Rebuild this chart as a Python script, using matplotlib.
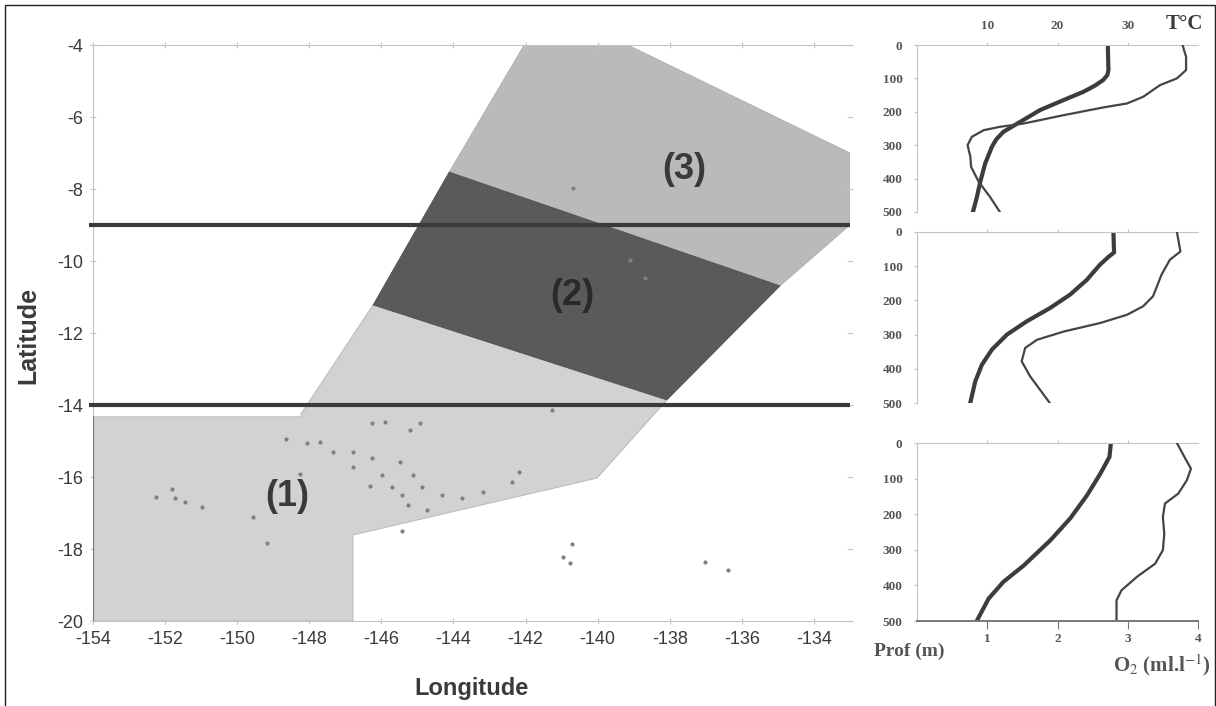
import matplotlib
matplotlib.use('Agg')
import matplotlib.pyplot as plt
from matplotlib.patches import Polygon, Rectangle

# Zones (lon, lat)
zone1 = [(-154, -14.33), (-148.23, -14.33), (-148.23, -14.25), (-146.23, -11.22), (-138.08, -13.86),
         (-140.02, -16.03), (-146.79, -17.61), (-146.79, -20), (-154, -20)]
zone2 = [(-144.12, -7.53), (-134.94, -10.69), (-138.08, -13.86), (-146.23, -11.22)]
zone3 = [(-142.04, -4), (-139.16, -4), (-133, -7), (-133, -9), (-134.94, -10.69), (-144.12, -7.53)]
limits_lat = [-9.0, -14.0]

# Iles
island_lon = [-152.25, -151.73, -151.45, -150.98, -151.81, -149.56, -149.17, -148.65, -148.26, -148.06,
              -147.70, -147.34, -146.79, -146.26, -145.9, -145.21, -144.93, -145.48, -146.26, -146.79,
              -146.32, -145.98, -145.71, -145.12, -144.87, -145.43, -145.26, -144.74, -144.32, -143.76,
              -145.43, -142.38, -142.18, -143.18, -140.71, -140.96, -140.77, -137.02, -136.39, -140.69,
              -139.1, -138.69, -141.27]
island_lat = [-16.56, -16.58, -16.69, -16.83, -16.33, -17.11, -17.83, -14.94, -15.92, -15.06,
              -15.03, -15.31, -15.31, -14.5, -14.47, -14.69, -14.5, -15.58, -15.47, -15.72,
              -16.25, -15.94, -16.28, -15.94, -16.28, -16.5, -16.78, -16.92, -16.5, -16.58,
              -17.5, -16.14, -15.86, -16.42, -17.86, -18.22, -18.39, -18.36, -18.58, -7.97,
              -9.97, -10.47, -14.14]

lon_ticks = [-154, -152, -150, -148, -146, -144, -142, -140, -138, -136, -134]
lat_ticks = [-4, -6, -8, -10, -12, -14, -16, -18, -20]
depth_ticks = [0, 100, 200, 300, 400, 500]
temp_ticks = [10, 20, 30]
o2_ticks = [1, 2, 3, 4]

# Profils
t1_temp = [27.16, 27.25, 27.1, 26.5, 25.3, 23.7, 20.85, 17.5, 14.7, 12.3, 11.3, 10.66, 9.7, 9.0, 8.53, 7.96]
t1_depth = [0, 75, 90, 105, 122, 140, 165, 195, 230, 260, 282, 305, 355, 410, 455, 500]
o1_val = [3.78, 3.83, 3.83, 3.70, 3.46, 3.22, 2.99, 2.65, 2.09, 1.52, 1.18, 0.95, 0.78, 0.72, 0.76, 0.77, 0.88, 1.04, 1.18]
o1_depth = [0, 35, 75, 100, 120, 155, 175, 187, 210, 235, 245, 255, 275, 300, 335, 365, 410, 455, 500]

t2_temp = [27.96, 28.05, 27.3, 26.07, 24.17, 21.8, 18.96, 15.64, 12.8, 10.66, 9.24, 8.29, 7.58]
t2_depth = [0, 60, 72, 95, 140, 183, 222, 261, 300, 344, 388, 437, 500]
o2_val = [3.70, 3.75, 3.6, 3.48, 3.36, 3.22, 2.99, 2.61, 2.09, 1.71, 1.54, 1.49, 1.61, 1.89]
o2_depth = [0, 57, 81, 125, 188, 217, 242, 266, 291, 315, 339, 378, 422, 500]

t3_temp = [27.6, 27.4, 26.1, 24.2, 21.8, 19.0, 15.2, 12.3, 10.2, 8.5]
t3_depth = [0, 39, 86, 147, 212, 273, 344, 390, 437, 500]
o3_val = [3.7, 3.82, 3.9, 3.84, 3.72, 3.53, 3.5, 3.52, 3.5, 3.39, 3.13, 2.91, 2.84, 2.84]
o3_depth = [0, 44, 72, 105, 142, 170, 208, 255, 301, 339, 376, 414, 442, 500]

W, H = 1216, 706
TXT = '#3a3a3a'
GRID = '#c4c4c4'
serif = ['Liberation Serif', 'DejaVu Serif']


def box(x0, y0, x1, y1):
    return [x0 / W, 1 - y1 / H, (x1 - x0) / W, (y1 - y0) / H]


plt.rcParams['font.family'] = ['Liberation Sans', 'DejaVu Sans']
plt.rcParams['axes.unicode_minus'] = False
fig = plt.figure(figsize=(W / 100, H / 100), dpi=100)

# cadre
fig.add_artist(Rectangle((5 / W, -0.01), (1215 - 5) / W, 1 - 5 / H + 0.01, transform=fig.transFigure,
                         fill=False, ec='#222222', lw=1))

# carte
ax = fig.add_axes(box(93, 45, 850, 621))
ax.set_xlim(-154, -133)
ax.set_ylim(-20, -4)
ax.add_patch(Polygon(zone1, fc='#d2d2d2', ec='#bdbdbd', lw=0.8))
ax.add_patch(Polygon(zone3, fc='#bababa', ec='#a8a8a8', lw=0.5))
ax.add_patch(Polygon(zone2, fc='#5a5a5a', ec='#4c4c4c', lw=0.5))
ax.scatter(island_lon, island_lat, s=9, c='#808080', marker='o', linewidths=0, zorder=3)
for lat in limits_lat:
    ax.plot([-154.1, -133], [lat, lat], color='#3a3a3a', lw=3, clip_on=False, zorder=4, solid_capstyle='butt')
ax.plot([-154, -154], [-20, -14.33], color='#777777', lw=1.5, zorder=4)

ax.set_xticks(lon_ticks)
ax.set_yticks(lat_ticks)
ax.tick_params(axis='both', colors=GRID, labelcolor=TXT, labelsize=13, length=4, pad=5)
ax.tick_params(axis='x', top=True, direction='inout')
ax.tick_params(axis='y', right=True, direction='inout')
for s in ax.spines.values():
    s.set_color(GRID)
    s.set_linewidth(0.8)
ax.spines['right'].set_visible(False)
ax.set_xlabel('Longitude', fontsize=17, fontweight='bold', color=TXT, labelpad=21)
ax.set_ylabel('Latitude', fontsize=18, fontweight='bold', color=TXT)
ax.yaxis.set_label_coords(-0.07, 0.495)

ax.text(-148.6, -16.55, '(1)', fontsize=26, fontweight='bold', color=TXT, ha='center', va='center', zorder=5)
ax.text(-140.71, -10.95, '(2)', fontsize=26, fontweight='bold', color='#2a2a2a', ha='center', va='center', zorder=5)
ax.text(-137.6, -7.45, '(3)', fontsize=26, fontweight='bold', color=TXT, ha='center', va='center', zorder=5)

# profils
panels = [
    (45, 212, t1_temp, t1_depth, o1_val, o1_depth),
    (232, 403, t2_temp, t2_depth, o2_val, o2_depth),
    (443, 621, t3_temp, t3_depth, o3_val, o3_depth),
]
for i, (y0, y1, temp, tdepth, oxy, odepth) in enumerate(panels):
    a = fig.add_axes(box(917, y0, 1198, y1))
    b = a.twiny()
    a.set_xlim(0, 40)
    a.set_ylim(500, 0)
    a.plot(temp, tdepth, color='#3c3c3c', lw=3, solid_capstyle='round', solid_joinstyle='round')
    a.set_xticks(temp_ticks)
    a.set_yticks(depth_ticks)
    a.xaxis.tick_top()
    a.tick_params(axis='both', colors=GRID, labelcolor='#555555', length=2.5, labelsize=9.5, pad=8)
    a.tick_params(axis='x', pad=7)
    for lab in a.get_yticklabels() + a.get_xticklabels():
        lab.set_family(serif)
        lab.set_fontweight('bold')
    if i > 0:
        a.tick_params(axis='x', labeltop=False)
    for name, s in a.spines.items():
        s.set_visible(name in ('top', 'left'))
        s.set_color(GRID)

    b.set_xlim(0, 4)
    b.plot(oxy, odepth, color='#444444', lw=1.6, solid_capstyle='round', solid_joinstyle='round')
    b.set_xticks([])
    for s in b.spines.values():
        s.set_visible(False)

    if i == 2:
        b.xaxis.tick_bottom()
        b.set_xticks(o2_ticks)
        b.tick_params(axis='x', colors='#777777', labelcolor='#555555', length=6, labelsize=9.5, pad=3)
        for lab in b.get_xticklabels():
            lab.set_family(serif)
            lab.set_fontweight('bold')
        b.spines['bottom'].set_visible(True)
        b.spines['bottom'].set_color('#777777')
        b.spines['bottom'].set_linewidth(1.4)

fig.text(1184 / W, 1 - 24 / H, 'T°C', family=serif, fontsize=15, fontweight='bold', color='#3a3a3a', ha='center', va='center')
fig.text(909 / W, 1 - 651 / H, 'Prof (m)', family=serif, fontsize=14, fontweight='bold', color='#555555', ha='center', va='center')
fig.text(1162 / W, 1 - 665 / H, 'O$_2$ (ml.l$^{-1}$)', family=serif, fontsize=15, fontweight='bold', color='#555555', ha='center', va='center',
         math_fontfamily='stix')

fig.savefig('out.png', dpi=100)
